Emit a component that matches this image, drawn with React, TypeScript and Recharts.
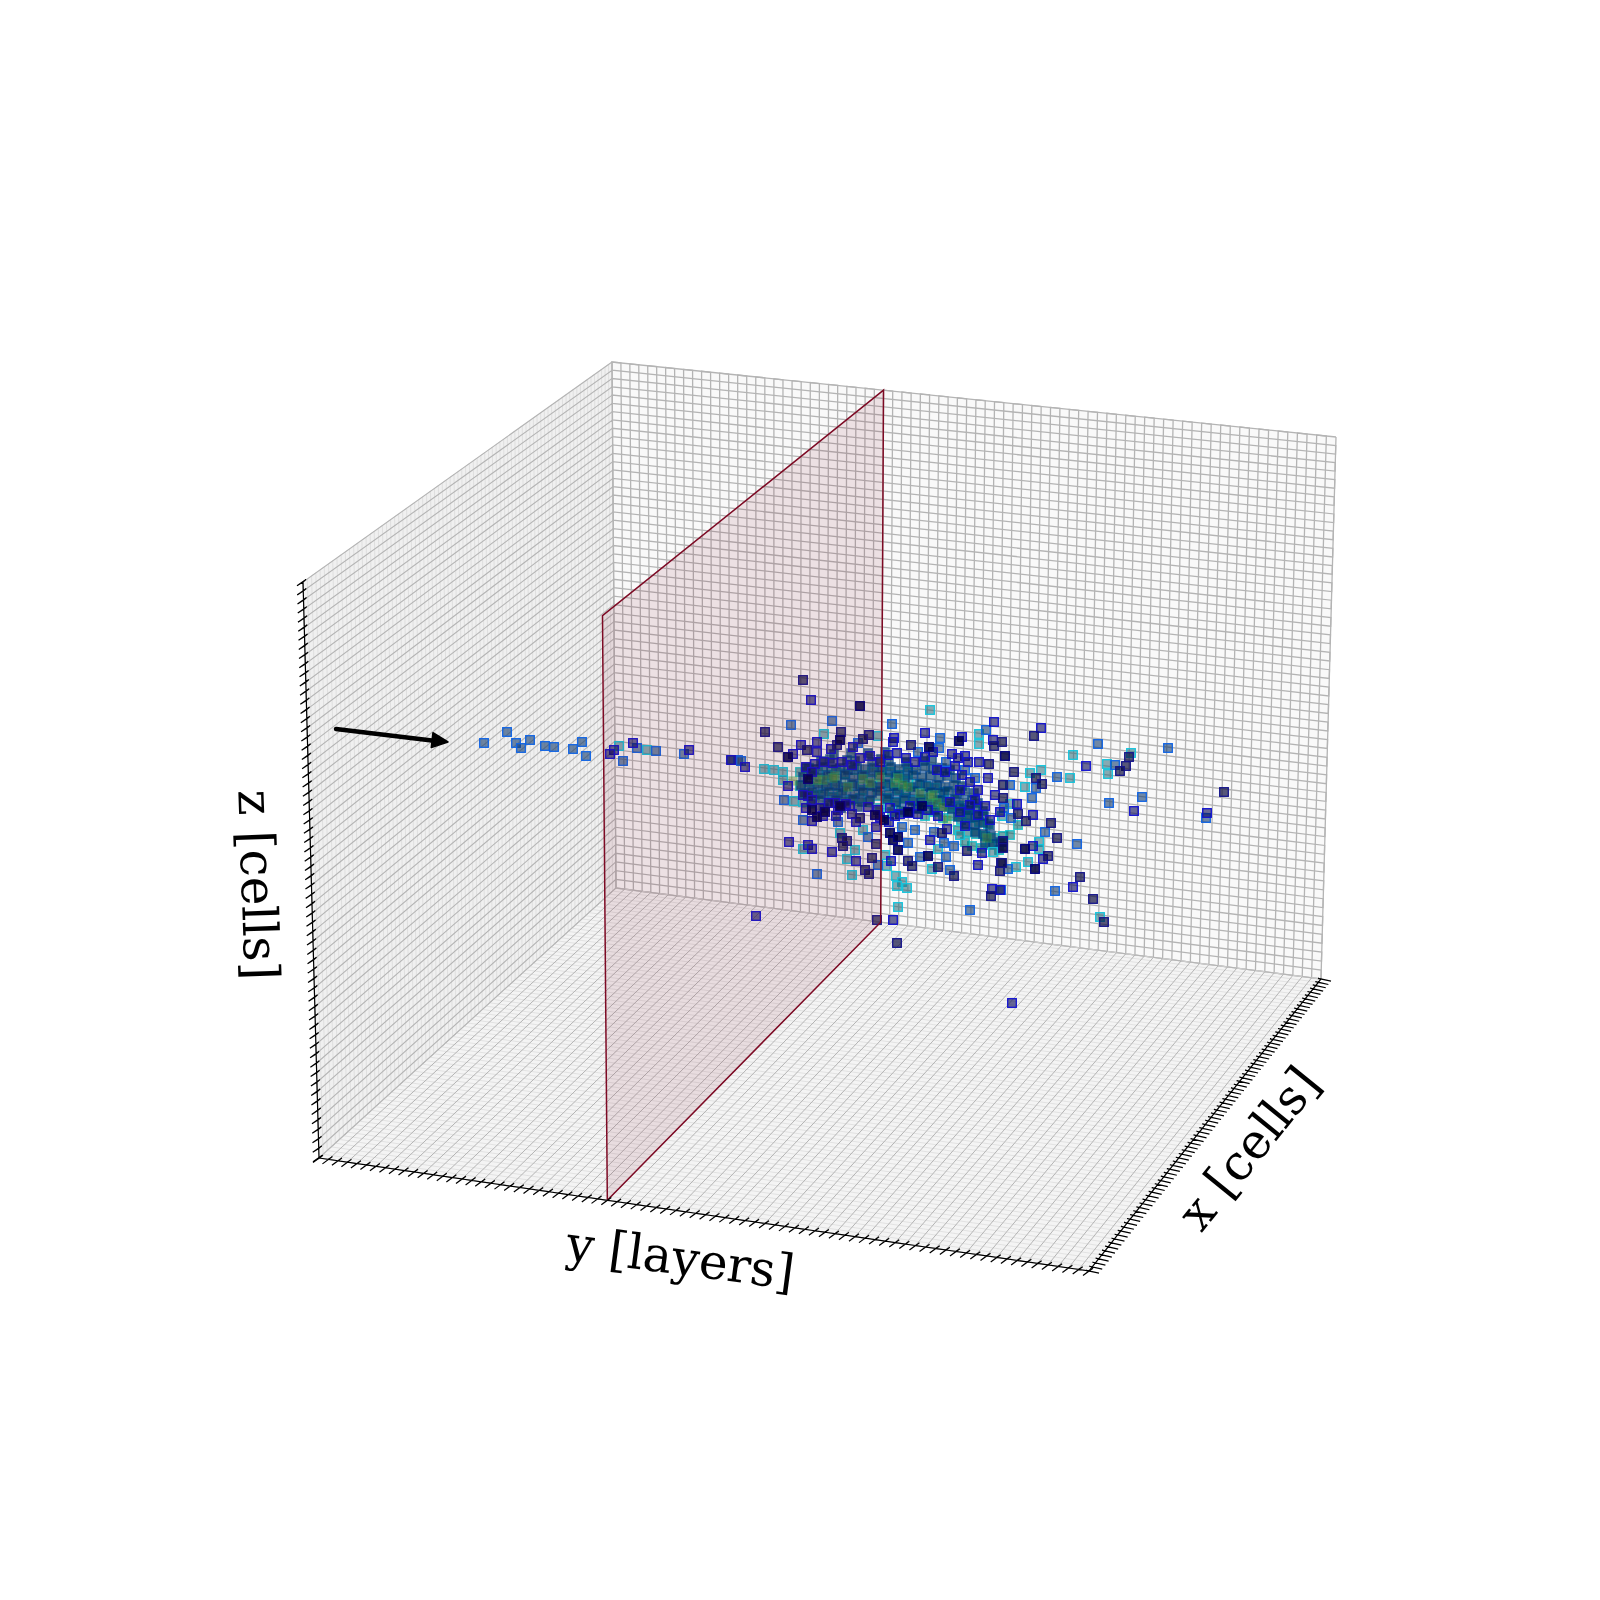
import React from "react";
import { ScatterChart, Scatter, XAxis, YAxis } from "recharts";

type Pt = { x: number; y: number };
type Pair = [number, number];

const layerCount = 78;
const cellCountX = 80;
const cellCountZ = 62;
const markedLayer = 30;

// picture positions of the box corners, used to build the projection
const cornerA: Pair = [319, 1158];
const cornerB: Pair = [1089, 1271];
const cornerC: Pair = [1321, 979];
const cornerD: Pair = [616, 888];
const cornerATop: Pair = [303, 582];
const cornerDTop: Pair = [612, 362];
const cornerCTop: Pair = [1336, 437];

const hitsTeal: Pair[] = [
  [800, 772], [809, 768], [818, 772], [827, 775], [836, 770], [845, 774], [854, 770], [863, 775],
  [872, 772], [881, 770], [890, 772], [899, 775], [908, 772], [800, 786], [809, 782], [818, 788],
  [827, 784], [836, 786], [845, 782], [854, 786], [863, 790], [872, 786], [881, 784], [890, 786],
  [899, 790], [908, 782], [917, 784], [926, 786], [935, 788], [944, 792], [806, 795], [815, 795],
  [824, 794], [833, 797], [842, 795], [851, 800], [860, 798], [869, 802], [878, 796], [887, 798],
  [896, 802], [905, 798], [914, 800], [923, 802], [932, 804], [941, 800], [950, 806], [959, 806],
  [968, 810], [880, 808], [892, 812], [904, 812], [916, 808], [925, 816], [934, 812], [943, 818],
  [952, 816], [961, 820], [970, 818], [979, 822], [988, 824], [958, 830], [967, 832], [976, 834],
  [985, 836], [994, 838], [1003, 836], [972, 846], [981, 848], [990, 845], [999, 850], [965, 842],
  [1010, 835], [1018, 825],
];
const hitsCore: Pair[] = [
  [834, 754], [851, 753], [868, 753], [885, 752],
  [821, 761], [830, 759], [847, 760], [855, 761], [872, 762], [881, 759],
  [889, 761], [906, 762], [923, 761], [932, 760],
  [806, 768], [814, 769], [823, 767], [831, 769], [840, 768], [848, 770], [857, 767], [865, 769], [874, 768],
  [882, 770], [891, 767], [899, 769], [908, 768], [916, 770], [925, 767], [933, 769], [942, 768], [950, 770],
  [803, 777], [811, 775], [820, 777], [828, 776], [837, 778], [845, 775], [854, 777], [862, 776], [871, 778],
  [879, 775], [888, 777], [896, 776], [905, 778], [913, 775], [922, 777], [930, 776], [939, 778], [947, 776], [956, 778],
  [801, 785], [809, 786], [818, 784], [826, 786], [835, 785], [843, 787], [852, 784], [860, 786], [869, 785],
  [877, 787], [886, 784], [894, 786], [903, 785], [911, 787], [920, 784], [928, 786], [937, 785], [945, 787], [954, 785], [962, 786],
  [804, 793], [812, 792], [821, 794], [829, 792], [838, 793], [846, 791], [855, 794], [863, 792], [872, 793],
  [880, 791], [889, 794], [897, 792], [906, 793], [914, 791], [923, 794], [931, 792], [940, 793], [948, 791], [957, 794], [965, 792], [974, 793],
  [811, 801], [819, 800], [828, 802], [836, 800], [845, 801], [853, 799], [862, 802], [870, 800],
  [887, 799], [896, 802], [904, 800], [913, 801], [921, 799], [930, 802], [938, 800], [947, 801], [955, 799], [964, 802], [972, 800], [978, 803],
  [824, 808], [841, 808], [858, 807],
  [901, 810], [918, 809], [935, 810], [943, 807], [952, 809], [960, 808], [969, 810], [977, 808], [983, 811],
  [958, 817], [967, 815], [975, 817], [984, 816], [966, 824], [975, 825], [983, 823], [990, 826],
  [975, 832], [983, 834], [991, 836], [985, 843], [993, 844], [1000, 842],
];
const hitsGreen: Pair[] = [
  [835, 776], [823, 780], [863, 779], [848, 787], [895, 783], [908, 787], [920, 793], [880, 777],
  [930, 797], [898, 778], [937, 803], [870, 783], [943, 807], [903, 785], [933, 795], [833, 778],
  [817, 780], [947, 820], [987, 838], [793, 781],
];
const hitsCyan: Pair[] = [
  [930, 710], [824, 734], [878, 736], [979, 734], [979, 744], [764, 769], [774, 770], [783, 772],
  [783, 780], [794, 801], [803, 802], [812, 803], [619, 746], [647, 750], [840, 833], [863, 830],
  [855, 850], [847, 859], [803, 849], [852, 875], [896, 876], [902, 882], [897, 886], [907, 888],
  [885, 855], [887, 866], [932, 869], [938, 849], [960, 835], [993, 852], [1016, 867], [898, 907],
  [1131, 753], [1107, 764], [1030, 773], [1041, 770], [1070, 778], [1108, 774], [1025, 787],
  [1010, 804], [1002, 816], [1039, 842], [1039, 849], [1028, 862], [1100, 917], [1073, 755],
];
const hitsBlue: Pair[] = [
  [484, 743], [507, 732], [516, 743], [521, 748], [530, 740], [545, 746], [554, 747], [573, 749],
  [582, 742], [586, 756], [623, 761], [637, 748], [656, 751], [684, 754], [732, 760], [738, 760],
  [741, 761], [791, 725], [832, 721], [892, 724], [986, 730], [940, 738], [939, 748], [858, 743],
  [784, 800], [803, 820], [838, 822], [902, 827], [915, 830], [868, 837], [878, 865], [817, 874],
  [920, 857], [946, 857], [944, 843], [954, 846], [934, 832], [908, 843], [950, 870], [1008, 869],
  [970, 910], [1098, 744], [1168, 748], [1115, 765], [1057, 777], [1010, 785], [1036, 788],
  [1142, 797], [1109, 803], [1206, 818], [1032, 798], [1004, 808], [1011, 818], [1045, 832],
  [1077, 844], [1003, 842], [1055, 891], [1001, 890], [918, 752], [946, 762], [965, 770], [975, 778],
];
const hitsNavy: Pair[] = [
  [811, 700], [994, 722], [925, 733], [962, 737], [993, 740], [894, 738], [893, 742], [817, 742],
  [801, 745], [817, 752], [831, 749], [793, 754], [853, 747], [965, 756], [979, 762], [731, 760],
  [745, 767], [633, 743], [614, 750], [610, 754], [689, 750], [788, 786], [812, 821], [856, 822],
  [889, 822], [876, 827], [789, 842], [808, 845], [812, 849], [832, 852], [856, 861], [891, 861],
  [930, 840], [947, 829], [978, 865], [982, 853], [992, 889], [1000, 890], [756, 916], [893, 920],
  [1012, 1003], [1041, 728], [1086, 766], [1134, 811], [1207, 813], [1017, 804], [1033, 815],
  [1033, 846], [1043, 859], [1073, 887], [806, 767], [815, 764], [824, 762], [833, 763], [842, 762],
  [852, 765], [860, 758], [870, 756], [880, 762], [812, 772], [808, 796], [835, 803], [850, 806],
  [868, 807], [878, 810], [888, 755], [897, 753], [906, 758], [915, 762], [925, 757], [937, 770],
  [945, 772], [955, 766], [962, 775], [970, 782], [978, 790], [988, 778], [968, 762], [952, 754],
  [960, 790], [975, 800], [985, 806], [995, 795], [812, 800], [820, 808], [829, 803], [838, 810],
  [846, 804], [852, 814], [823, 816], [836, 816], [806, 808], [803, 795], [890, 808], [900, 814],
  [910, 806], [918, 814], [928, 810], [938, 816], [950, 802], [960, 812], [970, 805], [1000, 812],
  [978, 815], [990, 820], [965, 826], [908, 813], [880, 817], [895, 816], [933, 752], [958, 758],
];
const hitsDark: Pair[] = [
  [803, 680], [765, 732], [841, 732], [869, 735], [863, 739], [837, 745], [778, 747], [807, 750],
  [911, 745], [1002, 742], [994, 746], [989, 764], [1014, 772], [860, 818], [842, 838],
  [847, 841], [843, 846], [872, 858], [876, 844], [865, 870], [869, 874], [908, 861], [912, 866],
  [938, 867], [942, 833], [954, 876], [967, 851], [1003, 847], [1003, 841], [1001, 863], [1000, 871],
  [991, 896], [877, 920], [897, 943], [1034, 736], [1129, 757], [1126, 766], [1120, 771],
  [1036, 778], [1042, 784], [1003, 785], [1224, 792], [1003, 798], [1018, 814], [1026, 821],
  [1051, 823], [1057, 838], [1003, 848], [1048, 856], [1002, 863], [1080, 877], [1093, 899], [1104, 922],
];
const hitsDeep: Pair[] = [
  [860, 706], [788, 757], [840, 740], [929, 747], [1005, 756], [959, 741], [817, 817], [875, 815],
  [893, 840], [898, 850], [928, 856], [808, 779], [1035, 869], [1025, 849], [890, 833], [898, 837],
  [812, 810], [825, 812], [840, 806], [884, 820], [908, 812], [922, 806],
];

const arrowShaft: Pair[] = [[336, 729], [436, 741]];
const arrowTip: Pair[] = [[448, 742]];

const yAxisLabel = "y [layers]";
const xAxisLabel = "x [cells]";
const zAxisLabel = "z [cells]";

const toPts = (list: Pair[]): Pt[] => list.map(([x, y]) => ({ x, y }));

// projective map of the unit box, solved from the corners above
const buildProjection = () => {
  const [x0, y0] = cornerA;
  const [x1, y1] = cornerB;
  const [x2, y2] = cornerC;
  const [x3, y3] = cornerD;
  const dx1 = x1 - x2;
  const dx2 = x3 - x2;
  const sx = x0 - x1 + x2 - x3;
  const dy1 = y1 - y2;
  const dy2 = y3 - y2;
  const sy = y0 - y1 + y2 - y3;
  const den = dx1 * dy2 - dx2 * dy1;
  const g = (sx * dy2 - dx2 * sy) / den;
  const h = (dx1 * sy - sx * dy1) / den;
  const a = x1 - x0 + g * x1;
  const b = x3 - x0 + h * x3;
  const d = y1 - y0 + g * y1;
  const e = y3 - y0 + h * y3;
  const qx = (h * cornerDTop[0] - b) / (cornerATop[0] - cornerDTop[0]);
  const qy = (h * cornerDTop[1] - e) / (cornerATop[1] - cornerDTop[1]);
  const raw = (u: number, v: number, w: number): Pt => ({
    x: (a * u + b * v + (qx * cornerATop[0] - x0) * w + x0) / (g * u + h * v + (qx - 1) * w + 1),
    y: (d * u + e * v + (qy * cornerATop[1] - y0) * w + y0) / (g * u + h * v + (qy - 1) * w + 1),
  });
  // the last corner is not reached exactly, spread what is left over
  const far = raw(1, 1, 1);
  const restX = cornerCTop[0] - far.x;
  const restY = cornerCTop[1] - far.y;
  return (u: number, v: number, height: number): Pt => {
    // rows get a bit tighter towards the top
    const w = height + 0.05 * height * (1 - height);
    const p = raw(u, v, w);
    return { x: p.x + restX * u * v * w, y: p.y + restY * u * v * w };
  };
};
const project = buildProjection();

// one continuous line that walks the grid back and forth along the border
const serpentine = (count: number, at: (s: number, t: number) => Pt): Pt[] => {
  const out: Pt[] = [];
  for (let i = 0; i <= count; i++) {
    const s = i / count;
    if (i % 2 === 0) out.push(at(s, 0), at(s, 1));
    else out.push(at(s, 1), at(s, 0));
  }
  return out;
};

const tickedAxis = (count: number, at: (s: number) => Pt, out: Pair, inner: Pair): Pt[] => {
  const pts: Pt[] = [];
  for (let i = 0; i <= count; i++) {
    const p = at(i / count);
    pts.push(p, { x: p.x + out[0], y: p.y + out[1] }, { x: p.x + inner[0], y: p.y + inner[1] }, p);
  }
  return pts;
};

const GRID = "#b4b4b4";
const GRID_SOFT = "#dadada";
const PLANE = "#7d0a24";

const walls = [
  { fill: "#f0f0f0", pts: [project(0, 0, 0), project(0, 1, 0), project(0, 1, 1), project(0, 0, 1)] },
  { fill: "#f9f9f9", pts: [project(0, 1, 0), project(1, 1, 0), project(1, 1, 1), project(0, 1, 1)] },
  { fill: "#f4f4f4", pts: [project(0, 0, 0), project(1, 0, 0), project(1, 1, 0), project(0, 1, 0)] },
];

const gridLines = [
  { stroke: GRID_SOFT, width: 0.8, pts: serpentine(cellCountX, (s, t) => project(0, s, t)) },
  { stroke: GRID, width: 1.1, pts: serpentine(cellCountZ, (s, t) => project(0, t, s)) },
  { stroke: GRID, width: 1.3, pts: serpentine(layerCount, (s, t) => project(s, 1, t)) },
  { stroke: GRID, width: 1.3, pts: serpentine(cellCountZ, (s, t) => project(t, 1, s)) },
  { stroke: GRID_SOFT, width: 0.7, pts: serpentine(cellCountX, (s, t) => project(t, s, 0)) },
  { stroke: GRID, width: 1, pts: serpentine(layerCount, (s, t) => project(s, t, 0)) },
];

const layerPos = markedLayer / layerCount;
const planePts = [
  project(layerPos, 0, 0),
  project(layerPos, 1, 0),
  project(layerPos, 1, 1),
  project(layerPos, 0, 1),
  project(layerPos, 0, 0),
];

const axisTicks = [
  tickedAxis(layerCount, (s) => project(s, 0, 0), [-6, 4.5], [4, -2.8]),
  tickedAxis(cellCountX, (s) => project(1, s, 0), [10, 2.2], [-3, -0.7]),
  tickedAxis(cellCountZ, (s) => project(0, 0, s), [-6, 3.8], [3, -2.6]),
];

const hitLayers = [
  { list: hitsTeal, fill: "rgba(10,105,110,0.58)", stroke: "rgba(0,190,200,0.8)" },
  { list: hitsCore, fill: "rgba(0,55,100,0.68)", stroke: "rgba(0,70,150,0.55)" },
  { list: hitsGreen, fill: "rgba(80,140,40,0.42)", stroke: "rgba(30,200,120,0.25)" },
  { list: hitsCyan, fill: "rgba(40,105,120,0.55)", stroke: "#14c4dc" },
  { list: hitsBlue, fill: "rgba(20,60,110,0.6)", stroke: "#1064e4" },
  { list: hitsNavy, fill: "rgba(15,15,90,0.62)", stroke: "#1212d0" },
  { list: hitsDark, fill: "rgba(10,10,60,0.68)", stroke: "#14148c" },
  { list: hitsDeep, fill: "rgba(0,0,60,0.85)", stroke: "#000080" },
];

const axisLabels = [
  { x: 680, y: 1262, text: yAxisLabel, angle: 7.5 },
  { x: 1252, y: 1151, text: xAxisLabel, angle: -51 },
  { x: 254, y: 885, text: zAxisLabel, angle: 88 },
];

const NoMark = () => null;

const HitSquare = (fill: string, stroke: string) => (p: any) => (
  <rect
    x={p.cx - 4.3}
    y={p.cy - 4.3}
    width={8.6}
    height={8.6}
    fill={fill}
    stroke={stroke}
    strokeWidth={1.3}
  />
);

const ArrowHead = (p: any) => (
  <polygon
    points="0,0 -16,-7.5 -16,7.5"
    fill="#000"
    stroke="#000"
    strokeLinejoin="round"
    strokeWidth={1.5}
    transform={`translate(${p.cx} ${p.cy}) rotate(6.6)`}
  />
);

const AxisText = (p: any) => (
  <text
    x={0}
    y={0}
    transform={`translate(${p.cx} ${p.cy}) rotate(${p.payload.angle})`}
    textAnchor="middle"
    dominantBaseline="middle"
    fontFamily="'DejaVu Serif'"
    fontSize={48.5}
    fill="#000"
  >
    {p.payload.text}
  </text>
);

const App = () => {
  return (
    <div style={{ position: "absolute", left: 0, top: 0, width: 1600, height: 1600, background: "#fff" }}>
      <ScatterChart width={1600} height={1600} margin={{ top: 0, right: 0, bottom: 0, left: 0 }}>
        <XAxis type="number" dataKey="x" domain={[0, 1600]} hide />
        <YAxis type="number" dataKey="y" domain={[0, 1600]} reversed hide />

        {walls.map((wall, i) => (
          <Scatter key={`wall-${i}`} data={[...wall.pts, wall.pts[0]]} shape={NoMark} line={{ stroke: "none", fill: wall.fill }} isAnimationActive={false} />
        ))}
        {gridLines.map((grid, i) => (
          <Scatter key={`grid-${i}`} data={grid.pts} shape={NoMark} line={{ stroke: grid.stroke, strokeWidth: grid.width, fill: "none" }} isAnimationActive={false} />
        ))}
        {hitLayers.map((layer, i) => (
          <Scatter key={`hits-${i}`} data={toPts(layer.list)} shape={HitSquare(layer.fill, layer.stroke)} isAnimationActive={false} />
        ))}
        <Scatter data={planePts} shape={NoMark} line={{ stroke: PLANE, strokeWidth: 1.5, fill: "rgba(125,10,36,0.1)" }} isAnimationActive={false} />
        {axisTicks.map((pts, i) => (
          <Scatter key={`axis-${i}`} data={pts} shape={NoMark} line={{ stroke: "#000", strokeWidth: 1.2, fill: "none" }} isAnimationActive={false} />
        ))}
        <Scatter data={toPts(arrowShaft)} shape={NoMark} line={{ stroke: "#000", strokeWidth: 4.5, strokeLinecap: "round", fill: "none" }} isAnimationActive={false} />
        <Scatter data={toPts(arrowTip)} shape={ArrowHead} isAnimationActive={false} />
        <Scatter data={axisLabels} shape={AxisText} isAnimationActive={false} />
      </ScatterChart>
    </div>
  );
};

export default App;
